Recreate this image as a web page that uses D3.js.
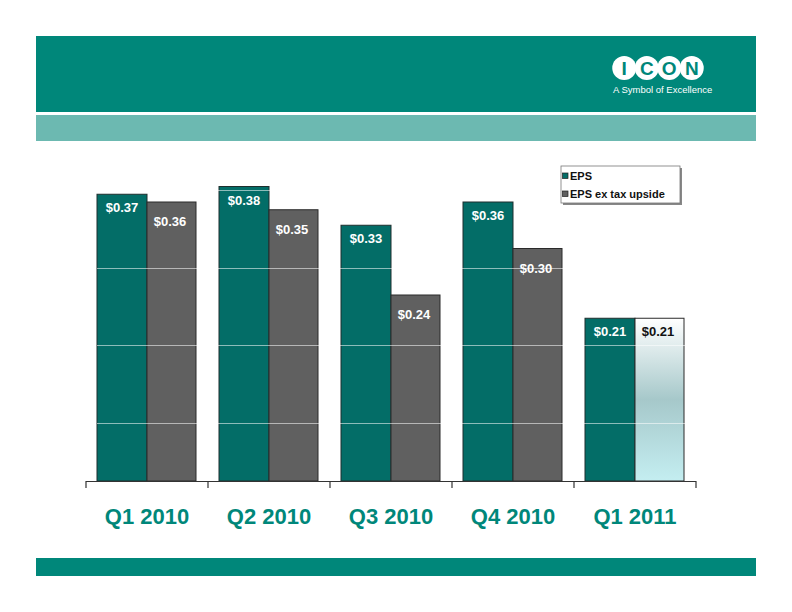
<!DOCTYPE html>
<html><head><meta charset="utf-8">
<script src="https://cdn.jsdelivr.net/npm/d3@7"></script>
<style>html,body{margin:0;padding:0;background:#fff;}svg{display:block;font-family:Arial,"Liberation Sans",sans-serif;}</style>
</head><body>
<script>
const categories = ["Q1 2010","Q2 2010","Q3 2010","Q4 2010","Q1 2011"];
const eps = [0.37,0.38,0.33,0.36,0.21];
const epsExTax = [0.36,0.35,0.24,0.30,0.21];
const seriesNames = ["EPS","EPS ex tax upside"];
const gridValues = [0.075,0.175,0.275,0.375];
const logoLetters = ["I","C","O","N"];

const W=792,H=612;
const svg=d3.select("body").append("svg").attr("width",W).attr("height",H);
const teal="#00877a", light="#6cb9b1";

// banners
svg.append("rect").attr("x",36).attr("y",36).attr("width",720).attr("height",76).attr("fill",teal);
svg.append("rect").attr("x",36).attr("y",115).attr("width",720).attr("height",26).attr("fill",light);
svg.append("rect").attr("x",36).attr("y",558).attr("width",720).attr("height",18).attr("fill",teal);

// logo
const lx=d3.scaleBand().domain(logoLetters).range([613,703]);
const logo=svg.append("g");
logo.selectAll("circle").data(logoLetters).join("circle")
 .attr("cx",d=>lx(d)+lx.bandwidth()/2).attr("cy",68).attr("r",12).attr("fill","#fff");
logo.selectAll("text.l").data(logoLetters).join("text").attr("class","l")
 .attr("x",d=>lx(d)+lx.bandwidth()/2).attr("y",75).attr("text-anchor","middle")
 .attr("font-size",19).attr("font-weight","bold").attr("fill",teal).text(d=>d);
svg.append("text").attr("x",613).attr("y",93).attr("font-size",9.5).attr("fill","#fff").text("A Symbol of Excellence");

// scales
const x=d3.scaleBand().domain(categories).range([86,696]);
const y=d3.scaleLinear().domain([0,0.4]).range([481,171]);
const barW=50, pad=11;

const defs=svg.append("defs");
const grad=defs.append("linearGradient").attr("id","g1").attr("x1",0).attr("y1",0).attr("x2",0).attr("y2",1);
grad.append("stop").attr("offset","0%").attr("stop-color","#ffffff");
grad.append("stop").attr("offset","50%").attr("stop-color","#a6c8ca");
grad.append("stop").attr("offset","100%").attr("stop-color","#c4eef1");

const data=categories.map((c,i)=>({c,i,a:eps[i],b:epsExTax[i]}));
const g=svg.append("g");
// EPS bars
g.selectAll("rect.a").data(data).join("rect").attr("class","a")
 .attr("x",d=>x(d.c)+pad).attr("y",d=>y(d.a)).attr("width",barW).attr("height",d=>y(0)-y(d.a))
 .attr("fill","#036d67").attr("stroke","#1f2f2e").attr("stroke-width",1);
g.selectAll("rect.b").data(data).join("rect").attr("class","b")
 .attr("x",d=>x(d.c)+pad+barW).attr("y",d=>y(d.b)).attr("width",barW-1).attr("height",d=>y(0)-y(d.b))
 .attr("fill",d=>d.i===categories.length-1?"url(#g1)":"#606060").attr("stroke","#2a2a2a").attr("stroke-width",1);

// gridlines over bars
g.selectAll("line.grid").data(gridValues).join("line").attr("class","grid")
 .attr("x1",97).attr("x2",685).attr("y1",d=>Math.round(y(d))+0.5).attr("y2",d=>Math.round(y(d))+0.5)
 .attr("stroke","rgba(255,255,255,0.55)").attr("stroke-width",1);

// labels
g.selectAll("text.la").data(data).join("text").attr("class","la")
 .attr("x",d=>x(d.c)+pad+barW/2).attr("y",d=>y(d.a)+18).attr("text-anchor","middle")
 .attr("font-size",13).attr("font-weight","bold").attr("fill","#fff").text(d=>"$"+d.a.toFixed(2));
g.selectAll("text.lb").data(data).join("text").attr("class","lb")
 .attr("x",d=>x(d.c)+pad+barW*1.5-2).attr("y",d=>d.i===categories.length-1?y(d.b)+18:y(d.b)+24).attr("text-anchor","middle")
 .attr("font-size",13).attr("font-weight","bold").attr("fill",d=>d.i===categories.length-1?"#111":"#fff").text(d=>"$"+d.b.toFixed(2));

// axis
const ax=svg.append("g");
ax.append("line").attr("x1",86).attr("x2",696).attr("y1",481.5).attr("y2",481.5).attr("stroke","#333").attr("stroke-width",1.2);
const tickPos=categories.map(c=>x(c)).concat([x.range()[1]]);
ax.selectAll("line.t").data(tickPos).join("line").attr("class","t")
 .attr("x1",d=>d).attr("x2",d=>d).attr("y1",481).attr("y2",488).attr("stroke","#333").attr("stroke-width",1.2);
ax.selectAll("text").data(categories).join("text")
 .attr("x",d=>x(d)+x.bandwidth()/2).attr("y",524).attr("text-anchor","middle")
 .attr("font-size",22).attr("font-weight","bold").attr("fill",teal).text(d=>d);

// legend
const leg=svg.append("g");
leg.append("rect").attr("x",563).attr("y",168).attr("width",119).attr("height",37).attr("fill","#888");
leg.append("rect").attr("x",561).attr("y",166).attr("width",119).attr("height",37).attr("fill","#fff").attr("stroke","#777").attr("stroke-width",0.8);
const legColors=["#036d67","#606060"];
seriesNames.forEach((n,i)=>{
  leg.append("rect").attr("x",562.5).attr("y",173+i*18).attr("width",5.5).attr("height",5.5).attr("fill",legColors[i]).attr("stroke","#222").attr("stroke-width",0.7);
  leg.append("text").attr("x",570).attr("y",180+i*18).attr("font-size",11).attr("font-weight","bold").attr("fill","#111").text(n);
});
</script>
</body></html>
